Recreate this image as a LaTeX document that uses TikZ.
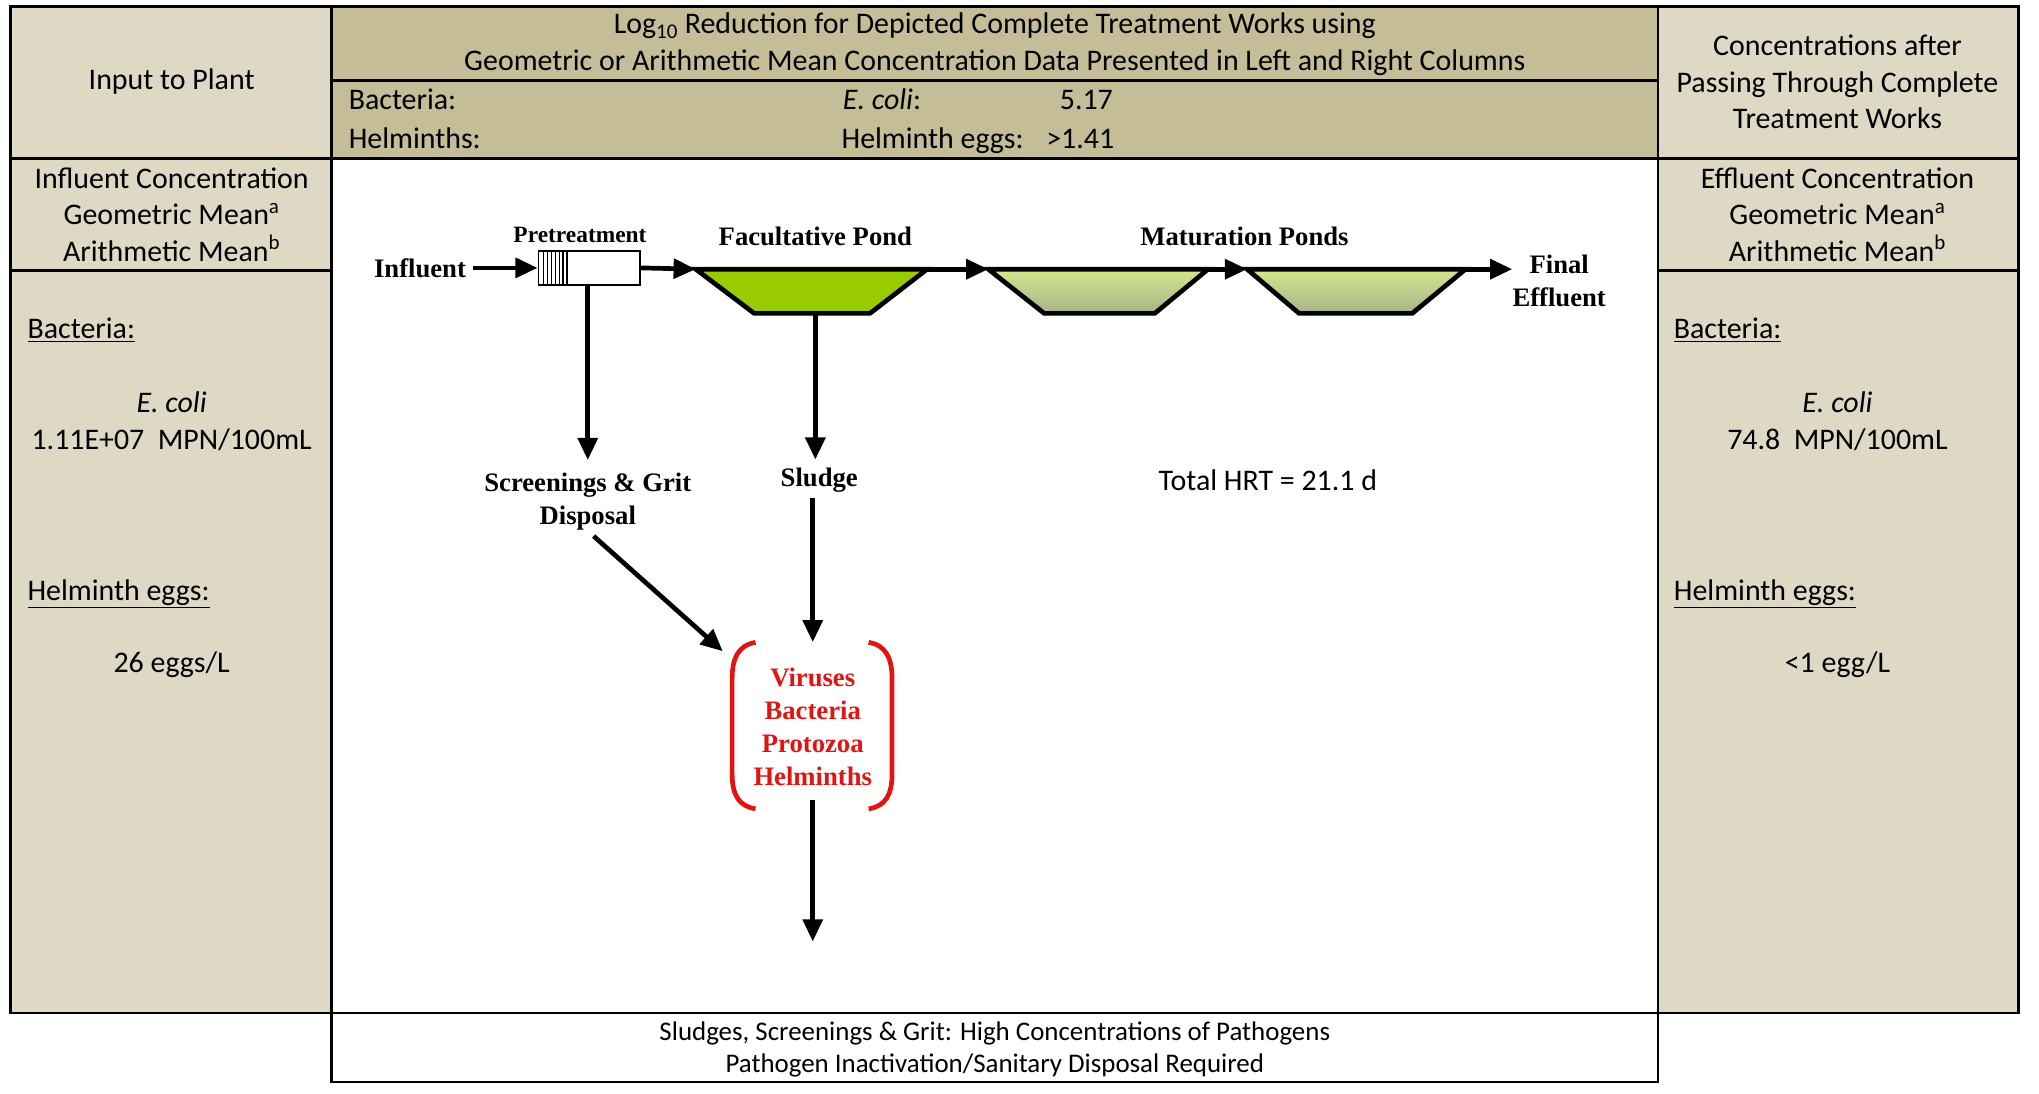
\documentclass[tikz,border=0pt]{standalone}
\usepackage{fontspec}
\setmainfont{Carlito}
\newfontfamily\tnr{Liberation Serif}
\usetikzlibrary{arrows.meta}
\definecolor{colbg}{RGB}{221,217,196}
\definecolor{hdrbg}{RGB}{196,189,151}
\definecolor{facg}{RGB}{153,204,0}
\definecolor{matT}{RGB}{212,230,140}
\definecolor{matB}{RGB}{166,180,136}
\definecolor{pred}{RGB}{225,20,20}
\begin{document}
\begin{tikzpicture}[x=1pt,y=-1pt,
  grid/.style={line width=2pt},
  tb/.style={font=\fontsize{23}{28}\selectfont, align=center, inner sep=0pt},
  tbl/.style={font=\fontsize{23}{28}\selectfont, inner sep=0pt, anchor=base west},
  lb/.style={font=\tnr\bfseries\fontsize{20.5}{25.5}\selectfont, align=center, inner sep=0pt},
  flow/.style={line width=3.6pt, -{Triangle[length=17pt,width=15pt]}},
  pond/.style={line width=3.6pt, line join=miter}]

\useasboundingbox (0,0) rectangle (1568,841);
\fill[white] (0,0) rectangle (1568,841);

% table fills
\fill[colbg] (8,5) rectangle (255,779);
\fill[colbg] (1275,5) rectangle (1552,779);
\fill[hdrbg] (255,5) rectangle (1275,122);

% grid
\draw[grid] (8,5) rectangle (1552,779);
\draw[grid] (255,5) -- (255,779) (1275,5) -- (1275,779);
\draw[grid] (8,122) -- (1552,122);
\draw[grid] (255,62) -- (1275,62);
\draw[grid] (8,208) -- (255,208) (1275,208) -- (1552,208);
\draw[grid] (255,779) rectangle (1275,832);

% header texts
\node[tb] (inp) at (132,63) {Input to Plant};
\node[tb] (title) at (765,34) {Log\textsubscript{10} Reduction for Depicted Complete Treatment Works using\\Geometric or Arithmetic Mean Concentration Data Presented in Left and Right Columns};
\node[tbl] (hb) at (268,84.5) {Bacteria:};
\node[tbl] (hh) at (268,114.5) {Helminths:};
\node[tbl] (he) at (648,84.5) {\textit{E. coli}:};
\node[tbl] (hg) at (647,114.5) {Helminth eggs:};
\node[tb, anchor=base east] (hev) at (856,84.5) {5.17};
\node[tb, anchor=base east] (hgv) at (857,114.5) {>1.41};
\node[tb] (conc) at (1413,63) {Concentrations after\\Passing Through Complete\\Treatment Works};
\node[tb] (infc) at (132,165) {Influent Concentration\\Geometric Mean\textsuperscript{a}\\Arithmetic Mean\textsuperscript{b}};
\node[tb] (effc) at (1413,165) {Effluent Concentration\\Geometric Mean\textsuperscript{a}\\Arithmetic Mean\textsuperscript{b}};

% left column body
\node[tbl] (lbac) at (21,260.5) {\underline{Bacteria:}};
\node[tb] (leco) at (132,324) {\textit{E. coli}\\1.11E+07\ \ MPN/100mL};
\node[tbl] (lhel) at (21,461.5) {\underline{Helminth eggs:}};
\node[tb] (lhv) at (132,511) {26 eggs/L};
% right column body
\node[tbl] (rbac) at (1287,260.5) {\underline{Bacteria:}};
\node[tb] (reco) at (1413,324) {\textit{E. coli}\\74.8\ \ MPN/100mL};
\node[tbl] (rhel) at (1287,461.5) {\underline{Helminth eggs:}};
\node[tb] (rhv) at (1413,511) {<1 egg/L};

% bottom box text
\node[font=\fontsize{20.7}{25}\selectfont, align=center, inner sep=0pt] (btm) at (765,807) {Sludges, Screenings \& Grit: High Concentrations of Pathogens\\Pathogen Inactivation/Sanitary Disposal Required};

% process diagram
\node[lb] (infl) at (323,206) {Influent};
\node[draw, line width=1.2pt, fill=white, minimum width=78pt, minimum height=26pt, inner sep=0pt] (pre) at (453,206) {};
\foreach \x in {418,421,...,433} \draw[line width=1pt] (\x,193) -- (\x,219);
\draw[line width=1pt] (436,193) -- (436,219);
\node[lb, font=\tnr\bfseries\fontsize{18}{20}\selectfont] (pret) at (446,181) {Pretreatment};

\coordinate (f1) at (535,207); \coordinate (f2) at (713,207);
\coordinate (f3) at (669,241); \coordinate (f4) at (580,241);
\coordinate (fb) at (627,241);
\coordinate (m1a) at (760,207); \coordinate (m1b) at (929,207);
\coordinate (m1c) at (888,241); \coordinate (m1d) at (803,241);
\coordinate (m2a) at (959,207); \coordinate (m2b) at (1127,207);
\coordinate (m2c) at (1086,241); \coordinate (m2d) at (999,241);

\draw[pond, fill=facg] (f1) -- (f2) -- (f3) -- (f4) -- cycle;
\draw[pond, top color=matT, bottom color=matB] (m1a) -- (m1b) -- (m1c) -- (m1d) -- cycle;
\draw[pond, top color=matT, bottom color=matB] (m2a) -- (m2b) -- (m2c) -- (m2d) -- cycle;

\node[lb] (facl) at (627,182) {Facultative Pond};
\node[lb] (matl) at (957,182) {Maturation Ponds};
\node[lb] (fin) at (1199,216) {Final\\Effluent};
\node[lb] (scr) at (452,386) {Screenings \& Grit\\Disposal};
\node[lb] (slu) at (630,369) {Sludge};
\node[lb, text=pred, minimum width=124pt, minimum height=130pt] (pth) at (625,559) {Viruses\\Bacteria\\Protozoa\\Helminths};
\node[tb] (hrt) at (975,369) {Total HRT = 21.1 d};
\coordinate (sink) at (625,724);

% brackets
\draw[pred, line width=3.6pt] (581,494) .. controls (568,496) and (563,506) .. (563,522) -- (563,595) .. controls (563,611) and (568,620) .. (581,622);
\draw[pred, line width=3.6pt] (668,494) .. controls (681,496) and (686,506) .. (686,522) -- (686,595) .. controls (686,611) and (681,620) .. (668,622);

% connectors
\draw[flow, shorten <=5pt] (infl.east |- pre.west) -- (pre.west);
\draw[flow] (pre.east) -- (f1);
\draw[flow] (f2) -- (m1a);
\draw[flow] (m1b) -- (m2a);
\draw[flow] (m2b) -- (m2b -| fin.west);
\draw[flow] (pre.south -| scr.north) -- ([yshift=10pt]scr.north);
\draw[flow] (fb) -- ([yshift=6pt]fb |- slu.north);
\draw[flow, shorten <=4pt] (slu.south -| pth.north) -- (pth.north);
\draw[flow, shorten <=6pt] (scr.south) -- ([xshift=-7pt,yshift=-7pt]pth.north west);
\draw[flow] ([yshift=9pt]pth.south) -- (sink);
\end{tikzpicture}
\end{document}
